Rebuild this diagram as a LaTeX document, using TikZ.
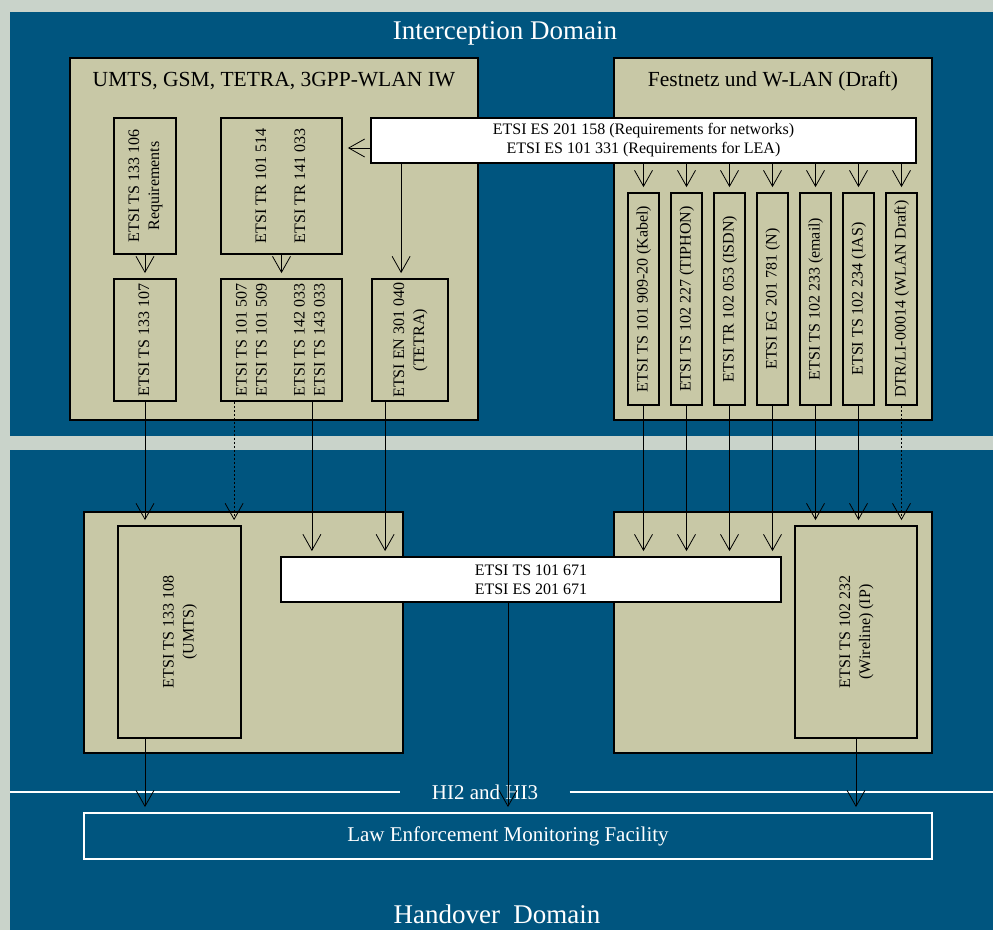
\documentclass[tikz,border=0pt]{standalone}
\usepackage{fontspec}
\setmainfont{Liberation Serif}
\usepackage{graphicx}
\usetikzlibrary{arrows.meta,positioning}
\definecolor{lawBlue}{HTML}{00557F}
\definecolor{lawSand}{HTML}{C8C8A6}
\definecolor{lawGrey}{HTML}{C9D3CA}
\newcommand{\vtext}[1]{\rotatebox{90}{\begin{tabular}{@{}c@{}}#1\end{tabular}}}
\tikzset{
  domainbox/.style={
    fill=lawBlue,
    inner sep=0pt
  },
  groupbox/.style={
    draw=black,
    line width=1.8pt,
    fill=lawSand,
    inner sep=0pt
  },
  spec/.style={
    draw=black,
    line width=1.8pt,
    fill=lawSand,
    inner sep=0pt,
    font=\fontsize{16}{20}\selectfont
  },
  note/.style={
    draw=black,
    line width=1.8pt,
    fill=white,
    align=center,
    inner sep=0pt,
    font=\fontsize{16}{19}\selectfont
  },
  grouptitle/.style={font=\fontsize{21.5}{25}\selectfont},
  domaintitle/.style={text=white, font=\fontsize{27}{30}\selectfont},
  hilabel/.style={text=white, font=\fontsize{21}{24}\selectfont},
  lemf/.style={
    draw=white,
    line width=1.8pt,
    text=white,
    inner sep=0pt,
    font=\fontsize{21}{24}\selectfont
  },
  hiline/.style={draw=white, line width=1.6pt},
  arrow/.style={-{Straight Barb[length=16pt,width=18pt]}, line width=0.8pt, shorten >=5pt},
  dotarrow/.style={arrow, dash pattern=on 2pt off 2pt}
}

\begin{document}
\begin{tikzpicture}[x=1pt, y=-1pt]
  \fill[lawGrey] (0,0) rectangle (993,930);
  \useasboundingbox (0,0) rectangle (993,930);

  % the two domains
  \node[domainbox, minimum width=983pt, minimum height=424pt] (interception) at (501.5,224) {};
  \node[domainbox, minimum width=983pt, minimum height=480pt] (handover) at (501.5,690) {};
  \node[domaintitle] (interceptionTitle) at (505,33) {Interception Domain};
  \node[domaintitle] (handoverTitle) at (497,914) {Handover\ \ Domain};

  % interception side
  \node[groupbox, minimum width=408pt, minimum height=362pt] (umtsGroup) at (274,239) {};
  \node[groupbox, minimum width=318pt, minimum height=362pt] (fixedGroup) at (773,239) {};
  \node[grouptitle] (umtsTitle) at (274,81) {UMTS, GSM, TETRA, 3GPP-WLAN IW};
  \node[grouptitle] (fixedTitle) at (773,81) {Festnetz und W-LAN (Draft)};

  \node[spec, minimum width=62pt, minimum height=136pt] (reqA) at (145,186) {\vtext{ETSI TS 133 106\\Requirements}};
  \node[spec, minimum width=121pt, minimum height=136pt] (trB) at (281.5,186) {\vtext{ETSI TR 101 514\\[19pt]ETSI TR 141 033}};
  \node[spec, minimum width=62pt, minimum height=122pt] (tsC) at (145,340) {\vtext{ETSI TS 133 107}};
  \node[spec, minimum width=121pt, minimum height=122pt] (tsD) at (281.5,340) {\vtext{ETSI TS 101 507\\ETSI TS 101 509\\[18pt]ETSI TS 142 033\\ETSI TS 143 033}};
  \node[spec, minimum width=76pt, minimum height=122pt] (enE) at (410,340) {\vtext{ETSI EN 301 040\\(TETRA)}};
  \node[note, minimum width=545pt, minimum height=45pt] (reqNote) at (643.5,140.5) {ETSI ES 201 158 (Requirements for networks)\\ETSI ES 101 331 (Requirements for LEA)};

  \foreach \txt [count=\i] in {ETSI TS 101 909-20 (Kabel), ETSI TS 102 227 (TIPHON), ETSI TR 102 053 (ISDN), ETSI EG 201 781 (N), ETSI TS 102 233 (email), ETSI TS 102 234 (IAS), DTR/LI-00014 (WLAN Draft)}
    \node[spec, minimum width=31pt, minimum height=212pt] (spec\i) at ({600.5+43*\i},299) {\vtext{\txt}};

  % handover side
  \node[groupbox, minimum width=319pt, minimum height=241pt] (umtsLower) at (243.5,632.5) {};
  \node[groupbox, minimum width=318pt, minimum height=241pt] (fixedLower) at (773,632.5) {};
  \node[spec, minimum width=123pt, minimum height=212pt] (umtsHandover) at (179.5,632) {\vtext{ETSI TS 133 108\\(UMTS)}};
  \node[spec, minimum width=122pt, minimum height=212pt] (ipHandover) at (856,632) {\vtext{ETSI TS 102 232\\(Wireline) (IP)}};
  \node[note, minimum width=500pt, minimum height=45pt] (hiNote) at (531,579.5) {ETSI TS 101 671\\ETSI ES 201 671};

  \node[hilabel] (hiLabel) at (485,792) {HI2 and HI3};
  \draw[hiline] (handover.west |- hiLabel) -- ([xshift=-28pt]hiLabel.west);
  \draw[hiline] ([xshift=28pt]hiLabel.east) -- (handover.east |- hiLabel);
  \node[lemf, minimum width=848pt, minimum height=46pt] (lemf) at (508,836) {Law Enforcement Monitoring Facility};

  % requirements into the standards
  \coordinate (tapB) at ([yshift=-7.5pt]reqNote.west);
  \coordinate (tapE) at ([xshift=31pt]reqNote.south west);
  \draw[arrow] (tapB) -- (tapB -| trB.east);
  \draw[arrow] (tapE) -- (tapE |- enE.north);
  \draw[arrow] (reqA.south) -- (tsC.north);
  \draw[arrow] (trB.south) -- (tsD.north);
  \foreach \i in {1,...,7}
    \draw[arrow] (reqNote.south -| spec\i.north) -- (spec\i.north);

  % down to the handover interfaces
  \coordinate (tapD1) at ([xshift=14pt]tsD.south west);
  \coordinate (tapD2) at ([xshift=-31pt]tsD.south east);
  \coordinate (tapE2) at ([xshift=14pt]enE.south west);
  \draw[arrow] (tsC.south) -- (tsC.south |- umtsHandover.north);
  \draw[dotarrow] (tapD1) -- (tapD1 |- umtsHandover.north);
  \draw[arrow] (tapD2) -- (tapD2 |- hiNote.north);
  \draw[arrow] (tapE2) -- (tapE2 |- hiNote.north);
  \foreach \i in {1,...,4}
    \draw[arrow] (spec\i.south) -- (spec\i.south |- hiNote.north);
  \foreach \i in {5,6}
    \draw[arrow] (spec\i.south) -- (spec\i.south |- ipHandover.north);
  \draw[dotarrow] (spec7.south) -- (spec7.south |- ipHandover.north);

  % to the LEMF
  \coordinate (outU) at (umtsHandover.south -| tsC.south);
  \draw[arrow] (outU) -- (outU |- lemf.north);
  \draw[arrow] (hiNote.south -| lemf.north) -- (lemf.north);
  \draw[arrow] (ipHandover.south) -- (ipHandover.south |- lemf.north);
\end{tikzpicture}
\end{document}
